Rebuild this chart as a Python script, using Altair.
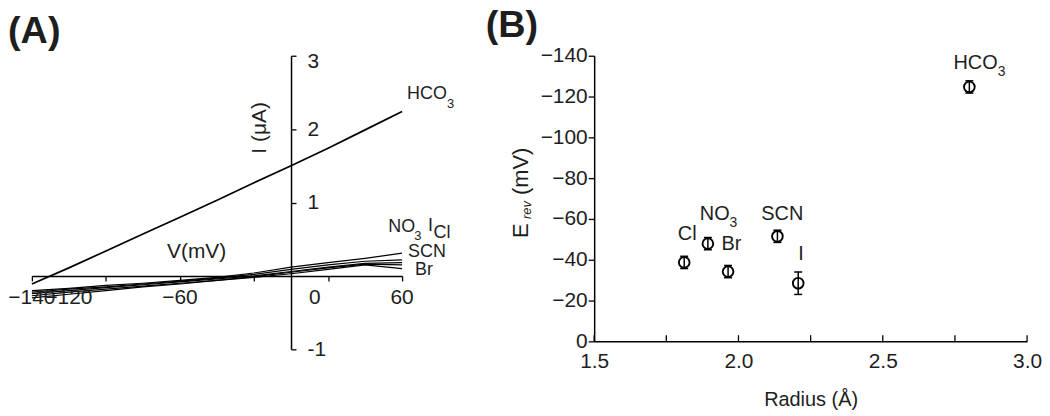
import json
import altair as alt
import pandas as pd

# ---------------- data: panel A (I-V curves) ----------------
volt = [-140, -120, -100, -80, -60, -40, -20, 0, 20, 40, 60]
i_hco3 = [-0.11, 0.11, 0.34, 0.57, 0.80, 1.03, 1.27, 1.50, 1.74, 1.99, 2.24]
i_cl = [-0.24, -0.20, -0.16, -0.12, -0.08, -0.04, 0.00, 0.06, 0.12, 0.17, 0.18]
i_no3 = [-0.22, -0.18, -0.15, -0.11, -0.07, -0.03, 0.02, 0.09, 0.15, 0.20, 0.22]
i_i = [-0.27, -0.22, -0.18, -0.14, -0.10, -0.06, -0.01, 0.05, 0.11, 0.16, 0.15]
i_scn = [-0.20, -0.17, -0.13, -0.10, -0.06, -0.02, 0.04, 0.12, 0.18, 0.24, 0.31]
i_br = [-0.30, -0.25, -0.20, -0.15, -0.11, -0.06, -0.02, 0.03, 0.09, 0.15, 0.10]

a_x_ticks = [-140, -120, -100, -80, -60, -40, -20, 0, 20, 40, 60]
a_x_labels = [-140, -120, -60, 60]      # tick labels under the axis
a_x_zero_label = [0]                    # drawn beside the crossing y axis
a_y_ticks = [-1, 1, 2, 3]

a_lab_text = ["HCO", "NO", "I", "Cl", "SCN", "Br"]
a_lab_v = [62.7, 52.5, 74.0, 77.0, 63.2, 67.0]
a_lab_i = [2.41, 0.60, 0.61, 0.52, 0.26, 0.01]
a_sub_text = ["3", "3"]
a_sub_v = [84.2, 66.5]
a_sub_i = [2.29, 0.49]

# ---------------- data: panel B (Erev vs radius) ----------------
ions = ["Cl", "NO3", "Br", "SCN", "I", "HCO3"]
radius = [1.812, 1.894, 1.964, 2.135, 2.207, 2.800]
erev = [-38.7, -47.9, -34.2, -51.5, -28.5, -124.7]
erev_err = [3.0, 3.0, 3.0, 3.0, 5.5, 3.0]

b_x_ticks = [1.5, 1.75, 2.0, 2.25, 2.5, 2.75, 3.0]
b_x_labels = [1.5, 2.0, 2.5, 3.0]
b_y_ticks = [0, -20, -40, -60, -80, -100, -120, -140]

b_lab_text = ["HCO", "Cl", "NO", "Br", "SCN", "I"]
b_lab_r = [2.745, 1.790, 1.866, 1.941, 2.079, 2.207]
b_lab_e = [-133.7, -49.8, -59.5, -44.9, -59.5, -40.0]
b_sub_text = ["3", "3"]
b_sub_r = [2.898, 1.969]
b_sub_e = [-130.2, -56.1]

b_ytitle_text = ["E", "rev", "(mV)"]
b_ytitle_e = [-50.7, -60.0, -71.7]

FONT = "Liberation Sans, Arial, Helvetica, sans-serif"
TXT = "#1e1e1e"
NOVIEW = alt.ViewBackground(strokeWidth=0, strokeOpacity=0)

# ---------------- panel A ----------------
rows = []
for name, vals in [("HCO3", i_hco3), ("Cl", i_cl), ("NO3", i_no3), ("I", i_i),
                   ("SCN", i_scn), ("Br", i_br)]:
    for v, i in zip(volt, vals):
        rows.append({"ion": name, "V": v, "I": i})
dfA = pd.DataFrame(rows)

WA, HA = 372, 295
xoffA = -(HA * 1.0 / 4.0)          # axis drawn at I = 0
yoffA = -(WA * 60.0 / 200.0)       # axis drawn at V = 0

xscaleA = alt.Scale(domain=[-140, 60], nice=False, zero=False)
yscaleA = alt.Scale(domain=[-1, 3], nice=False, zero=False)

x_axis_A = alt.Axis(
    title="V(mV)", orient="bottom", offset=xoffA, values=a_x_ticks, labels=False,
    grid=False, tickSize=5, tickColor="black", tickWidth=1.3,
    domainColor="black", domainWidth=1.5,
    titleFont=FONT, titleFontSize=21, titleFontWeight="normal", titleColor=TXT,
    titleX=165, titleY=-25, titleAlign="center", titleBaseline="middle",
)
y_axis_A = alt.Axis(
    title="I (μA)", orient="right", offset=yoffA, values=a_y_ticks, format="d",
    labelExpr="datum.value < 0 ? '-' + abs(datum.value) : datum.label",
    labelOffset={"condition": {"test": "datum.value == 3", "value": 6}, "value": 0},
    labelFont=FONT, labelFontSize=21, labelColor=TXT, labelPadding=11,
    labelFlush=False, labelOverlap=False, grid=False,
    tickSize=5, tickColor="black", tickWidth=1.3,
    domainColor="black", domainWidth=1.5,
    titleFont=FONT, titleFontSize=21, titleFontWeight="normal", titleColor=TXT,
    titleX=-32, titleY=72, titleAngle=270, titleAlign="center", titleBaseline="middle",
)

linesA = alt.Chart(dfA).mark_line(color="black", clip=False).encode(
    x=alt.X("V:Q", scale=xscaleA, axis=x_axis_A),
    y=alt.Y("I:Q", scale=yscaleA, axis=y_axis_A),
    detail="ion:N",
    strokeWidth=alt.condition(alt.datum.ion == "HCO3", alt.value(1.7), alt.value(1.2)),
)

xtlA = alt.Chart(pd.DataFrame({"V": a_x_labels, "I": [0] * len(a_x_labels)})
                 ).mark_text(font=FONT, fontSize=21, color=TXT, align="center",
                             baseline="top", dy=11).encode(
    x=alt.X("V:Q", scale=xscaleA), y=alt.Y("I:Q", scale=yscaleA),
    text=alt.Text("V:Q", format="d"))
zeroA = alt.Chart(pd.DataFrame({"V": a_x_zero_label, "I": [0] * len(a_x_zero_label)})
                  ).mark_text(font=FONT, fontSize=21, color=TXT, align="center",
                              baseline="top", dx=24, dy=11).encode(
    x=alt.X("V:Q", scale=xscaleA), y=alt.Y("I:Q", scale=yscaleA),
    text=alt.Text("V:Q", format="d"))

labA = pd.DataFrame({"t": a_lab_text, "V": a_lab_v, "I": a_lab_i})
subA = pd.DataFrame({"t": a_sub_text, "V": a_sub_v, "I": a_sub_i})
textA = alt.Chart(labA).mark_text(font=FONT, fontSize=18, color=TXT, align="left",
                                  baseline="alphabetic").encode(
    x=alt.X("V:Q", scale=xscaleA), y=alt.Y("I:Q", scale=yscaleA), text="t:N")
subTextA = alt.Chart(subA).mark_text(font=FONT, fontSize=13, color=TXT, align="left",
                                     baseline="alphabetic").encode(
    x=alt.X("V:Q", scale=xscaleA), y=alt.Y("I:Q", scale=yscaleA), text="t:N")

panelA = alt.layer(linesA, xtlA, zeroA, textA, subTextA).properties(
    width=WA, height=HA, view=NOVIEW,
    title=alt.TitleParams("(A)", anchor="start", frame="group", dx=-24, font=FONT,
                          fontSize=38, fontWeight="bold", color=TXT, offset=0),
)

# ---------------- panel B ----------------
WB, HB = 435, 287
dfB = pd.DataFrame({"ion": ions, "r": radius, "E": erev, "err": erev_err})
dfB["lo"] = dfB["E"] - dfB["err"]
dfB["hi"] = dfB["E"] + dfB["err"]

xscaleB = alt.Scale(domain=[1.5, 3.0], nice=False, zero=False)
yscaleB = alt.Scale(domain=[0, -140], nice=False, zero=False)

x_axis_B = alt.Axis(
    title="Radius (Å)", values=b_x_labels, format=".1f", ticks=False, tickSize=0,
    labelFont=FONT, labelFontSize=21, labelColor=TXT, labelPadding=9,
    labelFlush=False, labelOverlap=False, grid=False,
    domainColor="black", domainWidth=1.5,
    titleFont=FONT, titleFontSize=20, titleFontWeight="normal", titleColor=TXT,
    titlePadding=18,
)
y_axis_B = alt.Axis(
    title=None, values=b_y_ticks, format="d",
    labelFont=FONT, labelFontSize=21, labelColor=TXT, labelPadding=1,
    labelFlush=False, labelOverlap=False, grid=False,
    tickSize=6, tickColor="black", tickWidth=1.3,
    domainColor="black", domainWidth=1.5,
)

pts = alt.Chart(dfB).mark_point(shape="circle", filled=False, color="black",
                                size=115, strokeWidth=1.9, opacity=1).encode(
    x=alt.X("r:Q", scale=xscaleB, axis=x_axis_B),
    y=alt.Y("E:Q", scale=yscaleB, axis=y_axis_B),
)
bars = alt.Chart(dfB).mark_rule(color="black", strokeWidth=1.5).encode(
    x=alt.X("r:Q", scale=xscaleB), y=alt.Y("lo:Q", scale=yscaleB), y2="hi:Q")
capLo = alt.Chart(dfB).mark_tick(color="black", orient="horizontal", size=8,
                                 thickness=1.5, opacity=1).encode(
    x=alt.X("r:Q", scale=xscaleB), y=alt.Y("lo:Q", scale=yscaleB))
capHi = alt.Chart(dfB).mark_tick(color="black", orient="horizontal", size=8,
                                 thickness=1.5, opacity=1).encode(
    x=alt.X("r:Q", scale=xscaleB), y=alt.Y("hi:Q", scale=yscaleB))

ticksB = alt.Chart(pd.DataFrame({"r": b_x_ticks, "y0": [0.0] * len(b_x_ticks),
                                 "y1": [-3.0] * len(b_x_ticks)})).mark_rule(
    color="black", strokeWidth=1.3).encode(
    x=alt.X("r:Q", scale=xscaleB), y=alt.Y("y0:Q", scale=yscaleB), y2="y1:Q")

labB = pd.DataFrame({"t": b_lab_text, "r": b_lab_r, "E": b_lab_e})
subB = pd.DataFrame({"t": b_sub_text, "r": b_sub_r, "E": b_sub_e})
textB = alt.Chart(labB).mark_text(font=FONT, fontSize=20, color=TXT, align="left",
                                  baseline="alphabetic").encode(
    x=alt.X("r:Q", scale=xscaleB), y=alt.Y("E:Q", scale=yscaleB), text="t:N")
subTextB = alt.Chart(subB).mark_text(font=FONT, fontSize=14, color=TXT, align="left",
                                     baseline="alphabetic").encode(
    x=alt.X("r:Q", scale=xscaleB), y=alt.Y("E:Q", scale=yscaleB), text="t:N")

# y-axis title with subscript: rotated text pieces anchored at the y axis (x = 1.5)
ytB = pd.DataFrame({"t": b_ytitle_text, "E": b_ytitle_e,
                    "r": [1.5] * len(b_ytitle_text)})
ytE = alt.Chart(ytB[ytB.t != "rev"]).mark_text(
    font=FONT, fontSize=22, color=TXT, angle=270, align="left", baseline="alphabetic",
    dy=-66).encode(x=alt.X("r:Q", scale=xscaleB), y=alt.Y("E:Q", scale=yscaleB), text="t:N")
ytRev = alt.Chart(ytB[ytB.t == "rev"]).mark_text(
    font=FONT, fontSize=13, fontStyle="italic", color=TXT, angle=270, align="left",
    baseline="alphabetic", dy=-63).encode(
    x=alt.X("r:Q", scale=xscaleB), y=alt.Y("E:Q", scale=yscaleB), text="t:N")

panelB = alt.layer(ticksB, bars, capLo, capHi, pts, textB, subTextB, ytE, ytRev).properties(
    width=WB, height=HB, view=NOVIEW,
    title=alt.TitleParams("(B)", anchor="start", frame="group", dx=-109, font=FONT,
                          fontSize=38, fontWeight="bold", color=TXT, offset=0),
)

chart = alt.hconcat(panelA, panelB, spacing=193, bounds="flush").properties(
    padding={"left": 0, "top": -2, "right": 0, "bottom": 0}
).configure_view(strokeWidth=0, stroke="transparent").configure_axis(
    labelOverlap=False, grid=False).configure(background="white")

chart.save("out.html", embed_options={"renderer": "svg", "actions": False})
